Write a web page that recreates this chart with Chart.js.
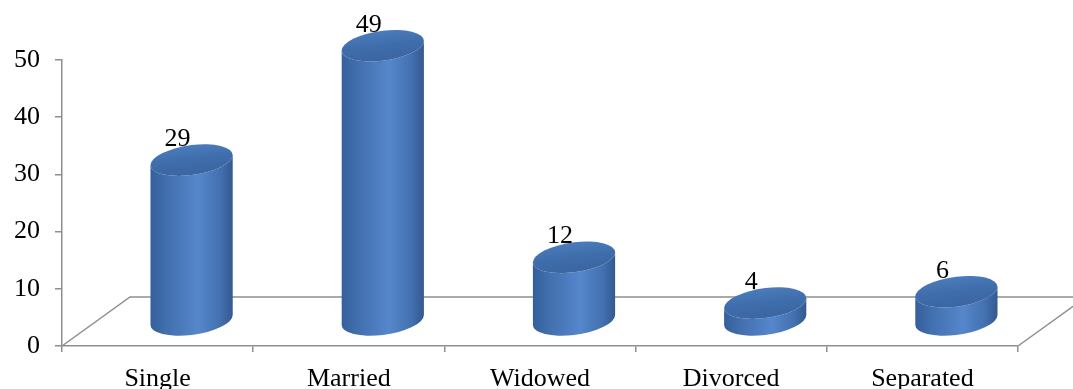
<!DOCTYPE html>
<html>
<head>
<meta charset="utf-8">
<script src="https://cdn.jsdelivr.net/npm/chart.js@4.4.1/dist/chart.umd.min.js"></script>
<style>
  html, body { margin: 0; padding: 0; background: #fff; }
  #wrap { width: 1073px; height: 389px; }
</style>
</head>
<body>
<div id="wrap"><canvas id="statusChart"></canvas></div>
<script>
const categories = ['Single', 'Married', 'Widowed', 'Divorced', 'Separated'];
const counts = [29, 49, 12, 4, 6];
const yTicks = [0, 10, 20, 30, 40, 50];

const FONT = '"Liberation Serif", "Times New Roman", serif';
const AXIS = '#8e8e8e';
// floor depth in pixels (perspective offset of the back edge)
const DEPTH_X = 68, DEPTH_Y = 49;

const floorPlugin = {
  id: 'floor3d',
  beforeDatasetsDraw(chart) {
    const { ctx, chartArea, scales } = chart;
    const y0 = scales.y.getPixelForValue(0);
    const l = chartArea.left, r = chartArea.right;
    ctx.save();
    ctx.strokeStyle = AXIS;
    ctx.lineWidth = 1.5;
    ctx.beginPath();
    ctx.moveTo(l, y0);
    ctx.lineTo(l + DEPTH_X, y0 - DEPTH_Y);
    ctx.lineTo(r + DEPTH_X, y0 - DEPTH_Y);
    ctx.lineTo(r, y0);
    ctx.stroke();
    ctx.restore();
  }
};

const cylinderPlugin = {
  id: 'cylinders',
  afterDatasetsDraw(chart) {
    const { ctx, scales } = chart;
    const meta = chart.getDatasetMeta(0);
    const zeroPx = scales.y.getPixelForValue(0);
    meta.data.forEach((bar, i) => {
      const cx = bar.x + DEPTH_X / 2;
      const rx = bar.width / 2;
      const ry = 15;
      const base = zeroPx - 26;
      const top = bar.y - 20;

      ctx.save();
      ctx.translate(cx, 0);
      ctx.transform(1, -0.12, 0, 1, 0, 0);

      // body
      const g = ctx.createLinearGradient(-rx, 0, rx, 0);
      g.addColorStop(0, '#355f9c');
      g.addColorStop(0.2, '#426fae');
      g.addColorStop(0.58, '#5587cb');
      g.addColorStop(0.85, '#4370b0');
      g.addColorStop(1, '#33598f');
      ctx.beginPath();
      ctx.moveTo(-rx, top);
      ctx.lineTo(-rx, base);
      ctx.ellipse(0, base, rx, ry, 0, Math.PI, 0, true);
      ctx.lineTo(rx, top);
      ctx.ellipse(0, top, rx, ry, 0, 0, Math.PI, false);
      ctx.closePath();
      ctx.fillStyle = g;
      ctx.fill();

      // cap
      const gt = ctx.createLinearGradient(0, top - ry, 0, top + ry);
      gt.addColorStop(0, '#4b7bbb');
      gt.addColorStop(0.5, '#3f6dab');
      gt.addColorStop(1, '#3a66a2');
      ctx.beginPath();
      ctx.ellipse(0, top, rx, ry, 0, 0, Math.PI * 2);
      ctx.fillStyle = gt;
      ctx.fill();
      ctx.restore();

      // value label
      ctx.save();
      ctx.font = '26px ' + FONT;
      ctx.fillStyle = '#000';
      ctx.textAlign = 'center';
      ctx.textBaseline = 'alphabetic';
      ctx.fillText(String(counts[i]), bar.x + 20, bar.y - 34);
      ctx.restore();
    });
  }
};

new Chart(document.getElementById('statusChart'), {
  type: 'bar',
  data: {
    labels: categories,
    datasets: [{
      data: counts,
      backgroundColor: 'rgba(0,0,0,0)',
      borderWidth: 0,
      barPercentage: 0.43,
      categoryPercentage: 1
    }]
  },
  options: {
    responsive: true,
    maintainAspectRatio: false,
    animation: false,
    events: [],
    layout: { padding: { top: 60, right: 55, left: 0, bottom: 0 } },
    plugins: { legend: { display: false }, tooltip: { enabled: false } },
    scales: {
      y: {
        min: 0,
        max: 50,
        afterBuildTicks(scale) { scale.ticks = yTicks.map(v => ({ value: v })); },
        afterFit(scale) { scale.width = 62; },
        border: { color: AXIS, width: 1.5 },
        grid: { drawOnChartArea: false, color: AXIS, tickLength: 7, lineWidth: 1.5 },
        ticks: { color: '#000', font: { family: FONT, size: 26 }, padding: 15 }
      },
      x: {
        afterFit(scale) { scale.height = 43; },
        border: { color: AXIS, width: 1.5 },
        grid: { drawOnChartArea: false, offset: true, color: AXIS, tickLength: 6, lineWidth: 1.5 },
        ticks: { color: '#000', font: { family: FONT, size: 26 }, padding: 12, maxRotation: 0 }
      }
    }
  },
  plugins: [floorPlugin, cylinderPlugin]
});
</script>
</body>
</html>
